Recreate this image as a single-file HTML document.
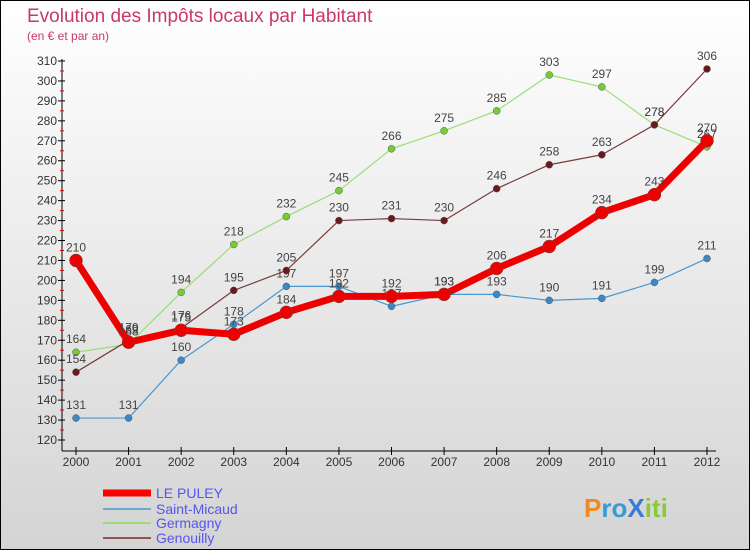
<!DOCTYPE html>
<html><head><meta charset="utf-8"><style>
body{margin:0}
#c{width:750px;height:550px;position:relative;box-sizing:border-box;border:1px solid #000;background:linear-gradient(#fff,#d4d4d4);font-family:"Liberation Sans",sans-serif;overflow:hidden}
</style></head><body>
<div id="c">
<svg id="s" width="750" height="550" style="position:absolute;left:0;top:0">
<text x="26" y="21" font-size="19" fill="#c8386a">Evolution des Impôts locaux par Habitant</text>
<text x="26" y="39" font-size="12" fill="#c8386a">(en € et par an)</text>
<line x1="61" y1="58" x2="61" y2="450" stroke="#000"/>
<line x1="61" y1="450" x2="715" y2="450" stroke="#000"/>
<g id="ax"></g><g id="series"></g>
<g>
<line x1="102" y1="492" x2="150" y2="492" stroke="#f00" stroke-width="7"/>
<text x="155" y="497" font-size="14" fill="#5555ee">LE PULEY</text>
<line x1="102" y1="508" x2="150" y2="508" stroke="#4a98d0" stroke-width="1.5"/>
<text x="155" y="513" font-size="14" fill="#5555ee">Saint-Micaud</text>
<line x1="102" y1="522" x2="150" y2="522" stroke="#88dd55" stroke-width="1.5"/>
<text x="155" y="527" font-size="14" fill="#5555ee">Germagny</text>
<line x1="102" y1="537" x2="150" y2="537" stroke="#7a2a2a" stroke-width="1.5"/>
<text x="155" y="542" font-size="14" fill="#5555ee">Genouilly</text>
</g>
<text x="583" y="516" font-size="26" font-weight="bold" fill="#3a9ad8"><tspan fill="#f08a20">P</tspan>ro<tspan fill="#3a7ad8">X</tspan><tspan fill="#8cc83c">iti</tspan></text>
</svg>
</div>
<script>
const years=[2000,2001,2002,2003,2004,2005,2006,2007,2008,2009,2010,2011,2012];
const lePuley=[210,169,175,173,184,192,192,193,206,217,234,243,270];
const saintMicaud=[131,131,160,178,197,197,187,193,193,190,191,199,211];
const germagny=[164,168,194,218,232,245,266,275,285,303,297,278,267];
const genouilly=[154,170,176,195,205,230,231,230,246,258,263,278,306];
const yTicks=[120,130,140,150,160,170,180,190,200,210,220,230,240,250,260,270,280,290,300,310];
const NS="http://www.w3.org/2000/svg";
const X=i=>75+i*(706-75)/(years.length-1);
const Y=v=>439-(v-120)*(379/190);
function mk(t,a,p){const e=document.createElementNS(NS,t);for(const k in a)e.setAttribute(k,a[k]);p.appendChild(e);return e;}
const ax=document.getElementById('ax');
yTicks.forEach(v=>{
 const l=mk('line',{x1:57,x2:64,y1:Y(v),y2:Y(v),stroke:'#000'},ax);
 
 
 if(v<310){const m=mk('line',{x1:59,x2:63,y1:Y(v+5),y2:Y(v+5),stroke:'#e00'},ax);
 
 }
 const t=mk('text',{x:56,y:Y(v)+4,'font-size':12,fill:'#333','text-anchor':'end'},ax);t.textContent=v;
 
 
});
years.forEach((y,i)=>{
 const l=mk('line',{x1:X(i),x2:X(i),y1:446,y2:454,stroke:'#000'},ax);
 
 
 const t=mk('text',{x:X(i),y:465,'font-size':12,fill:'#333','text-anchor':'middle'},ax);t.textContent=y;
 
 
});
const sg=document.getElementById('series');
function draw(vals,name,color,w,r,dot){
 const g=mk('g',{},sg);
 
 
 const p=mk('polyline',{points:vals.map((v,i)=>X(i)+','+Y(v)).join(' '),fill:'none',stroke:color,'stroke-width':w,'stroke-linejoin':'round'},g);
 
 
 vals.forEach((v,i)=>{
  const c=mk('circle',{cx:X(i),cy:Y(v),r:r,fill:dot,stroke:'#555','stroke-width':0.5},g);
  
  
  const t=mk('text',{x:X(i),y:Y(v)-9,'font-size':12,fill:'#444','text-anchor':'middle'},g);t.textContent=v;
  
  
 });
}
draw(saintMicaud,'saint-micaud','#4a98d0',1.2,3.5,'#3a88c8');
draw(germagny,'germagny','#99dd77',1.2,3.5,'#77cc33');
draw(genouilly,'genouilly','#7a3a3a',1.2,3.5,'#6a1a1a');
draw(lePuley,'le-puley','#ee0000',7,6.5,'#ee0000');
</script>
</body></html>
